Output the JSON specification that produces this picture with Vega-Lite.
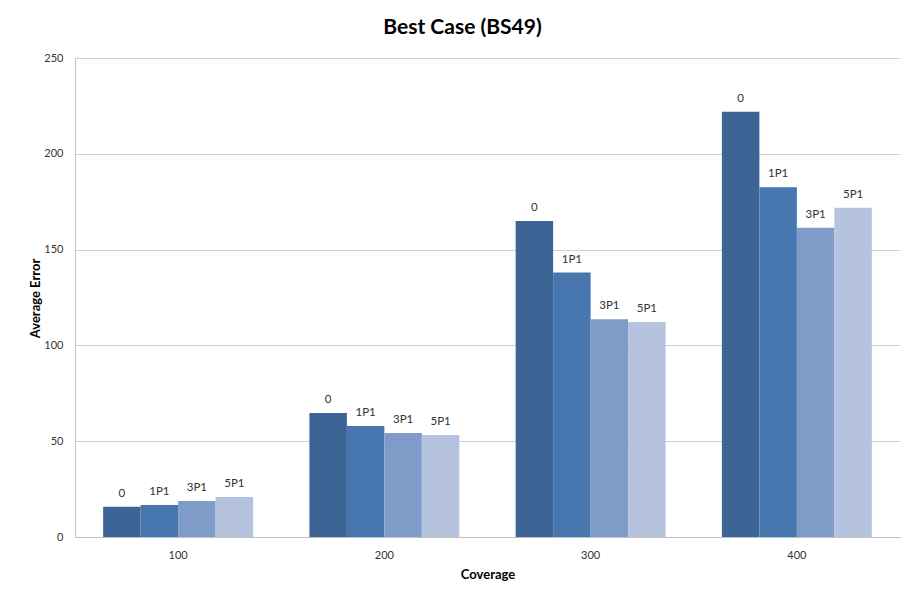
{
  "$schema": "https://vega.github.io/schema/vega-lite/v6.json",
  "width": 825,
  "height": 479,
  "autosize": {"type": "none"},
  "padding": {"left": 75, "top": 58, "right": 4, "bottom": 58},
  "background": "white",
  "title": {"text": "Best Case (BS49)", "font": "Lato", "fontSize": 21, "fontWeight": "bold", "color": "#000000", "offset": 14, "dx": -25},
  "data": {"values": [
    {"coverage": "100", "series": "0", "error": 15.8},
    {"coverage": "100", "series": "1P1", "error": 16.7},
    {"coverage": "100", "series": "3P1", "error": 18.8},
    {"coverage": "100", "series": "5P1", "error": 20.9},
    {"coverage": "200", "series": "0", "error": 64.7},
    {"coverage": "200", "series": "1P1", "error": 57.9},
    {"coverage": "200", "series": "3P1", "error": 54.3},
    {"coverage": "200", "series": "5P1", "error": 53.2},
    {"coverage": "300", "series": "0", "error": 164.9},
    {"coverage": "300", "series": "1P1", "error": 138.0},
    {"coverage": "300", "series": "3P1", "error": 113.6},
    {"coverage": "300", "series": "5P1", "error": 112.2},
    {"coverage": "400", "series": "0", "error": 222.0},
    {"coverage": "400", "series": "1P1", "error": 182.5},
    {"coverage": "400", "series": "3P1", "error": 161.4},
    {"coverage": "400", "series": "5P1", "error": 171.9}
  ]},
  "encoding": {
    "x": {
      "field": "coverage", "type": "nominal", "sort": ["100", "200", "300", "400"],
      "scale": {"paddingInner": 0.273, "paddingOuter": 0.1365},
      "axis": {"title": "Coverage", "labelAngle": 0, "ticks": false, "labelPadding": 12, "labelFont": "Lato", "labelFontSize": 11, "labelColor": "#333333", "domainColor": "#c0c0c0", "titleFont": "Lato", "titleFontSize": 13, "titleFontWeight": "bold", "titleColor": "#000000", "titlePadding": 8}
    },
    "xOffset": {"field": "series", "type": "nominal", "sort": ["0", "1P1", "3P1", "5P1"], "scale": {"paddingInner": 0, "paddingOuter": 0}},
    "y": {
      "field": "error", "type": "quantitative",
      "scale": {"domain": [0, 250]},
      "axis": {"title": "Average Error", "values": [0, 50, 100, 150, 200, 250], "ticks": false, "labelPadding": 12, "labelFont": "Lato", "labelFontSize": 11, "labelColor": "#333333", "domainColor": "#c0c0c0", "gridColor": "#d0d0d0", "titleFont": "Lato", "titleFontSize": 13, "titleFontWeight": "bold", "titleColor": "#000000", "titleX": -40, "titleY": 240, "titleBaseline": "middle", "titleAngle": -90}
    }
  },
  "layer": [
    {
      "mark": {"type": "bar"},
      "encoding": {
        "color": {"field": "series", "type": "nominal", "sort": ["0", "1P1", "3P1", "5P1"], "scale": {"domain": ["0", "1P1", "3P1", "5P1"], "range": ["#3c6494", "#4877b0", "#7f9bc7", "#b5c3df"]}, "legend": null}
      }
    },
    {
      "mark": {"type": "text", "dy": -13, "font": "Lato", "fontSize": 11.5, "color": "#333333"},
      "encoding": {"text": {"field": "series", "type": "nominal"}}
    }
  ],
  "config": {"view": {"stroke": null}}
}
